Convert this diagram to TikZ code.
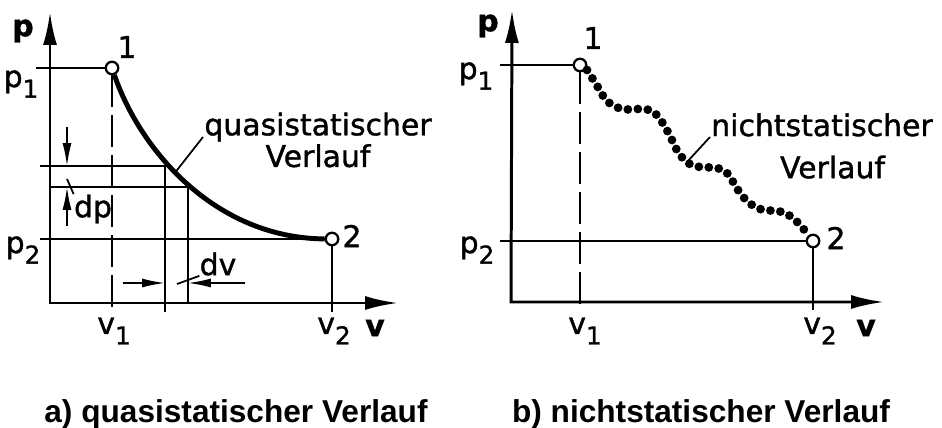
\documentclass[tikz,border=0pt]{standalone}
\usepackage{fontspec}
\setmainfont[FakeBold=1.2]{DejaVu Sans}
\newfontfamily\capfont{Liberation Sans}
\usetikzlibrary{arrows.meta,calc}
\newcommand\lowsub[1]{\raisebox{-6pt}{\fontsize{14}{14}\selectfont #1}}

\begin{document}
\begin{tikzpicture}[x=0.02cm,y=-0.02cm,>=Latex]
	\tikzstyle{axis}=[line width=1.7pt,line join=miter,{Latex[length=6.6mm,width=2.8mm]}-{Latex[length=6.6mm,width=2.8mm]}]
	\tikzstyle{thin}=[line width=1pt]
	\tikzstyle{dim}=[line width=1pt,-{Latex[length=4.6mm,width=1.8mm]}]
	\tikzstyle{dashln}=[line width=1pt,dash pattern=on 0.64cm off 0.16cm]
	\tikzstyle{pt}=[circle,draw,line width=1.3pt,fill=white,inner sep=0pt,minimum size=0.25cm]
	\tikzstyle{lbl}=[font=\fontsize{17}{18}\selectfont,inner sep=0pt]
	\tikzstyle{ax}=[font=\bfseries\fontsize{17}{18}\selectfont,inner sep=0pt]
	\tikzstyle{captxt}=[font=\capfont\bfseries\fontsize{18}{21}\selectfont,inner sep=0pt]
	\useasboundingbox (0,0) rectangle (942,428);

	% a) quasistatisch
	\coordinate (ya) at (50,12);
	\coordinate (oa) at (50,303);
	\coordinate (xa) at (398,303);
	\draw[axis] (ya) -- (oa) -- (xa);
	\node[pt] (a1) at (112,68) {};
	\node[pt] (a2) at (332,239) {};
	\coordinate (ap1) at (36,68);
	\coordinate (ap2) at (40,239);
	\coordinate (av1) at (112,312);
	\coordinate (av2) at (332,312);
	\draw[thin] (ap1) -- (a1);
	\draw[thin] (ap2) -- (a2);
	\draw[dashln] (a1) -- (av1);
	\draw[thin] (a2) -- (av2);
	\draw[line width=2.8pt] (a1) .. controls (140,150) and (215,238) .. (a2);
	% dp / dv
	\coordinate (ah1) at (40,166);
	\coordinate (ak1) at (165,166);
	\coordinate (ak1e) at (165,312);
	\coordinate (ah2) at (50,187);
	\coordinate (ak2) at (188,187);
	\coordinate (ak2e) at (188,303);
	\draw[thin] (ah1) -- (ak1) -- (ak1e);
	\draw[thin] (ah2) -- (ak2) -- (ak2e);
	\coordinate (dpa) at (67,127);
	\coordinate (dpb) at (67,226);
	\draw[dim] (dpa) -- (dpa |- ah1);
	\draw[dim] (dpb) -- (dpb |- ah2);
	\coordinate (dva) at (123,283);
	\coordinate (dvb) at (245,283);
	\draw[dim] (dva) -- (dva -| ak1);
	\draw[dim] (dvb) -- (dvb -| ak2);
	\node[lbl] (dp) at (93,209) {dp};
	\node[lbl] (dv) at (218,264) {dv};
	\coordinate (dpl) at (67,179);
	\coordinate (dvl) at (177,284);
	\draw[thin] (dpl) -- (dp.north west);
	\draw[thin] (dvl) -- (dv.south west);
	\node[lbl,align=center] (qa) at (318,140) {quasistatischer\\Verlauf};
	\coordinate (qal) at (174,174);
	\coordinate (qat) at (203,137);
	\draw[thin] (qal) -- (qat);
	% labels
	\node[ax] (pa) at (23,31) {p};
	\node[ax] (va) at (375,328) {v};
	\node[lbl] (a1l) at (127,47) {1};
	\node[lbl] (a2l) at (352,236) {2};
	\node[lbl] (p1a) at (21,84) {p\lowsub{1}};
	\node[lbl] (p2a) at (23,250) {p\lowsub{2}};
	\node[lbl] (v1a) at (114,331) {v\lowsub{1}};
	\node[lbl] (v2a) at (334,331) {v\lowsub{2}};

	% b) nichtstatisch
	\coordinate (yb) at (512,10);
	\coordinate (ob) at (511,302);
	\coordinate (xb) at (884,302);
	\draw[axis] (yb) -- (ob) -- (xb);
	\node[pt] (b1) at (580,65) {};
	\node[pt] (b2) at (813,241) {};
	\coordinate (bp1) at (500,65);
	\coordinate (bp2) at (500,241);
	\coordinate (bv1) at (580,310);
	\coordinate (bv2) at (813,310);
	\draw[thin] (bp1) -- (b1);
	\draw[thin] (bp2) -- (b2);
	\draw[dashln] (b1) -- (bv1);
	\draw[thin] (b2) -- (bv2);
	\draw[line width=5pt,line cap=round,dash pattern=on 0pt off 0.2cm]
		plot[smooth,tension=0.6] coordinates {(587,70) (596,84) (607,101) (622,109) (638,109)
		(652,111) (662,122) (670,136) (678,152) (688,163) (700,167) (717,168) (728,174)
		(736,187) (746,200) (760,209) (782,212) (795,220) (806,232)};
	\node[lbl,align=center] (nb) at (822,146) {nichtstatischer\\[6pt]\hspace*{12pt}Verlauf};
	\coordinate (nbl) at (687,162);
	\coordinate (nbt) at (710,137);
	\draw[thin] (nbl) -- (nbt);
	\node[ax] (pb) at (488,26) {p};
	\node[ax] (vb) at (866,328) {v};
	\node[lbl] (b1l) at (593,38) {1};
	\node[lbl] (b2l) at (836,238) {2};
	\node[lbl] (p1b) at (476,76) {p\lowsub{1}};
	\node[lbl] (p2b) at (477,250) {p\lowsub{2}};
	\node[lbl] (v1b) at (585,331) {v\lowsub{1}};
	\node[lbl] (v2b) at (820,331) {v\lowsub{2}};

	% captions
	\node[captxt] (capa) at (236,414) {a) quasistatischer Verlauf};
	\node[captxt] (capb) at (701,414) {b) nichtstatischer Verlauf};
\end{tikzpicture}
\end{document}
